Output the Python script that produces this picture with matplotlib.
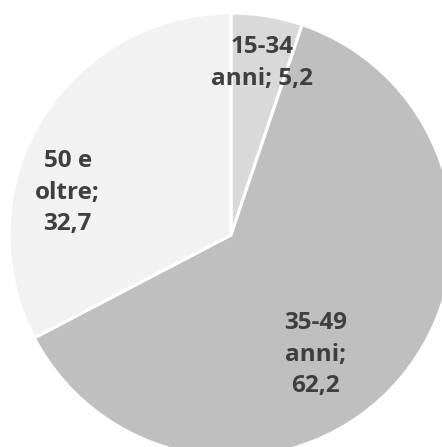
import matplotlib
matplotlib.use("Agg")
import matplotlib.pyplot as plt
import numpy as np

categories = ["15-34\nanni; 5,2", "35-49\nanni;\n62,2", "50 e\noltre;\n32,7"]
values = [5.2, 62.2, 32.7]
colors = ["#d9d9d9", "#bfbfbf", "#f2f2f2"]
# label placement (angle in degrees, radius fraction) — Excel "best fit"
label_pos = [(79.8, 0.787), (-54.7, 0.66), (165.5, 0.76)]

W, H = 442, 447
fig = plt.figure(figsize=(W / 100, H / 100), dpi=100)
cx, cy, R = 231, 235, 222
ax = fig.add_axes([(cx - R) / W, (H - cy - R) / H, 2 * R / W, 2 * R / H])
ax.pie(values, colors=colors, startangle=90, counterclock=False,
       wedgeprops=dict(edgecolor="white", linewidth=2.2), radius=1, frame=False)
ax.set_xlim(-1, 1)
ax.set_ylim(-1, 1)
ax.set_aspect("auto")
ax.axis("off")

for lab, (ang, r) in zip(categories, label_pos):
    a = np.deg2rad(ang)
    ax.text(r * np.cos(a), r * np.sin(a), lab, ha="center", va="center",
            fontsize=17.5, fontweight="bold", family="Open Sans",
            color="#3f3f3f", linespacing=1.42)

fig.savefig("out.png", dpi=100)
